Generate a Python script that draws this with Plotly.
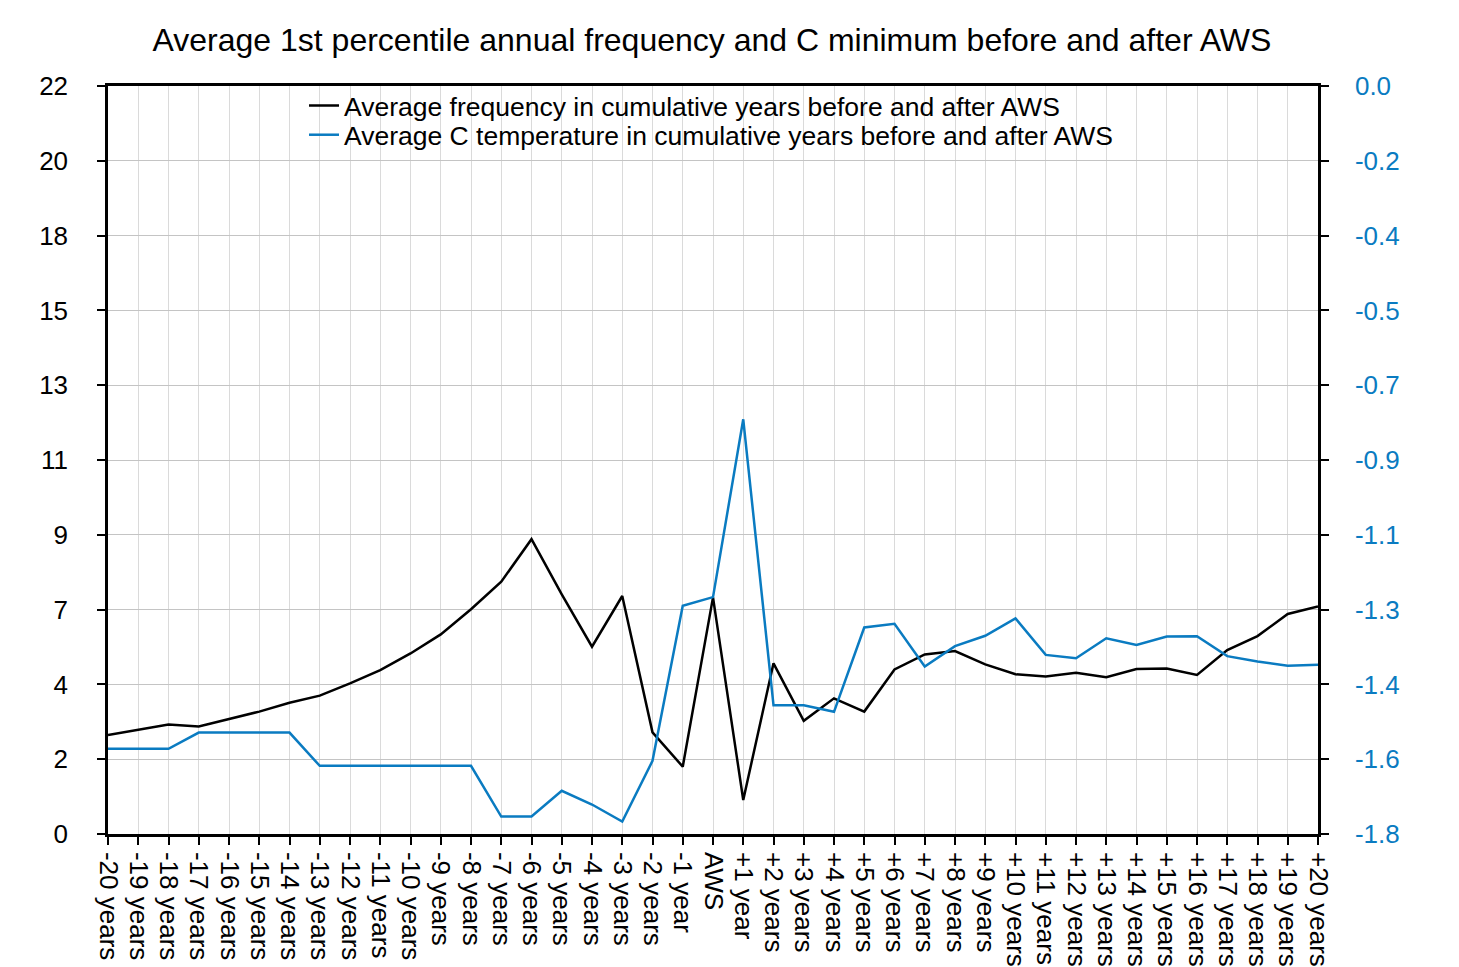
import plotly.graph_objects as go

categories = ([f"-{n} years" for n in range(20, 1, -1)] + ["-1 year", "AWS", "+1 year"]
              + [f"+{n} years" for n in range(2, 21)])

avg_frequency = [
    2.91, 3.06, 3.22, 3.16, 3.37, 3.60, 3.86, 4.07, 4.43, 4.82,
    5.31, 5.87, 6.61, 7.42, 8.67, 7.05, 5.51, 7.00, 2.99, 1.98,
    6.96,
    1.00, 5.02, 3.33, 3.99, 3.60, 4.84, 5.28, 5.38, 4.99, 4.70,
    4.63, 4.74, 4.61, 4.85, 4.87, 4.68, 5.41, 5.82, 6.47, 6.69,
]

avg_temperature = [
    -1.595, -1.595, -1.595, -1.556, -1.556, -1.556, -1.556, -1.636, -1.636, -1.636,
    -1.636, -1.636, -1.636, -1.758, -1.758, -1.696, -1.729, -1.770, -1.624, -1.251,
    -1.230,
    -0.802, -1.490, -1.490, -1.506, -1.303, -1.294, -1.397, -1.348, -1.323, -1.281,
    -1.369, -1.377, -1.329, -1.345, -1.325, -1.324, -1.372, -1.385, -1.395, -1.393,
]

left_ticks = [i * 2.2 for i in range(11)]
left_text = ["0", "2", "4", "7", "9", "11", "13", "15", "18", "20", "22"]
right_ticks = [-i * 0.18 for i in range(11)]
right_text = ["0.0", "-0.2", "-0.4", "-0.5", "-0.7", "-0.9", "-1.1", "-1.3", "-1.4", "-1.6", "-1.8"]

BLUE = "#0A7BC1"
FONT = "Liberation Sans"
TICK = dict(size=26, family=FONT)

fig = go.Figure()
fig.add_trace(go.Scatter(
    x=categories, y=avg_frequency, mode="lines",
    name="Average frequency in cumulative years before and after AWS",
    line=dict(color="black", width=2.5), legend="legend",
))
fig.add_trace(go.Scatter(
    x=categories, y=avg_temperature, mode="lines", yaxis="y2",
    name="Average C temperature in cumulative years before and after AWS",
    line=dict(color=BLUE, width=2.5), legend="legend2",
))

legend_style = dict(xanchor="left", yanchor="middle", bgcolor="rgba(0,0,0,0)",
                    borderwidth=0, font=dict(size=26.5, family=FONT))

fig.update_layout(
    width=1459, height=967,
    paper_bgcolor="white", plot_bgcolor="white",
    font=dict(family=FONT, color="black", size=26),
    title=dict(text="Average 1st percentile annual frequency and C minimum before and after AWS",
               x=0.4825, xanchor="center", y=0.967, yanchor="middle",
               font=dict(size=32, family=FONT, color="black")),
    margin=dict(l=100, r=149, t=78, b=141, autoexpand=False),
    showlegend=True,
    legend=dict(x=0.162, y=0.9735, **legend_style),
    legend2=dict(x=0.162, y=0.9345, **legend_style),
    xaxis=dict(
        type="category", range=[0, 40], tickangle=90,
        tickmode="array", tickvals=categories, ticktext=categories,
        showgrid=True, gridcolor="#dadada", gridwidth=1,
        showline=True, linecolor="black", linewidth=2.5, mirror=True,
        ticks="outside", ticklen=8, tickcolor="black", tickwidth=2,
        tickfont=TICK, ticklabelstandoff=2, automargin=False,
    ),
    yaxis=dict(
        range=[0, 22], tickvals=left_ticks, ticktext=left_text,
        showgrid=True, gridcolor="#c4c4c4", gridwidth=1,
        showline=True, linecolor="black", linewidth=2.5,
        ticks="outside", ticklen=8, tickcolor="black", tickwidth=2,
        tickfont=TICK, ticklabelstandoff=24, zeroline=False, automargin=False,
    ),
    yaxis2=dict(
        range=[-1.8, 0], tickvals=right_ticks, ticktext=right_text,
        overlaying="y", side="right", showgrid=False,
        showline=True, linecolor="black", linewidth=2.5,
        ticks="outside", ticklen=8, tickcolor="black", tickwidth=2,
        tickfont=dict(size=26, family=FONT, color=BLUE), ticklabelstandoff=21,
        zeroline=False, automargin=False,
    ),
)

fig.write_html("out.html")
